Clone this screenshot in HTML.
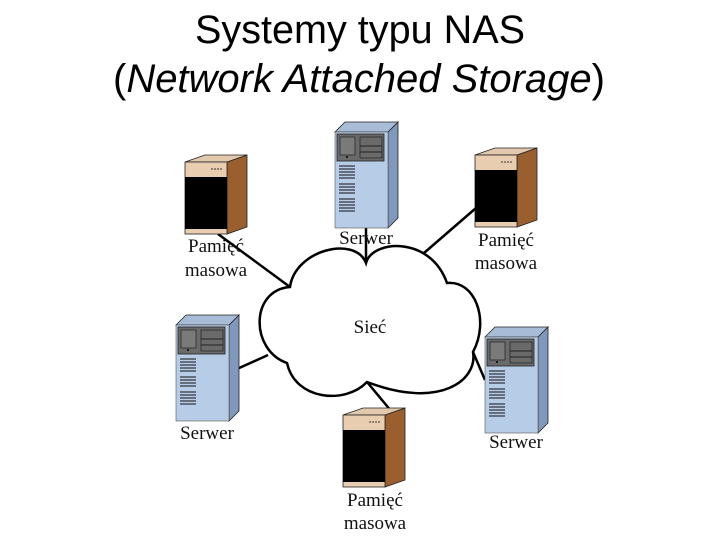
<!DOCTYPE html>
<html><head><meta charset="utf-8"><style>
html,body{margin:0;padding:0;background:#fff;width:720px;height:540px;overflow:hidden}
</style></head><body>
<svg width="720" height="540" viewBox="0 0 720 540" xmlns="http://www.w3.org/2000/svg">
<defs>
<g id="stor">
  <polygon points="42,0 62,-7 62,65 42,72" fill="#9a5f2e" stroke="#222" stroke-width="0.8"/>
  <polygon points="0,0 20,-7 62,-7 42,0" fill="#e2c8ac" stroke="#222" stroke-width="0.8"/>
  <rect x="0" y="0" width="42" height="72" fill="#e8cdb0" stroke="#222" stroke-width="0.8"/>
  <rect x="0" y="15" width="42" height="52" fill="#000"/>
  <line x1="26" y1="7" x2="38" y2="7" stroke="#333" stroke-width="1" stroke-dasharray="2,1"/>
</g>
<g id="serv">
  <polygon points="53,0 63,-10 63,86 53,96" fill="#7f98bc" stroke="#222" stroke-width="0.8"/>
  <polygon points="0,0 10,-10 63,-10 53,0" fill="#a8bcd8" stroke="#222" stroke-width="0.8"/>
  <rect x="0" y="0" width="53" height="96" fill="#b7cce6" stroke="#555" stroke-width="0.6"/>
  <rect x="2" y="2" width="47" height="27" fill="#6a6a6a" stroke="#222" stroke-width="0.8"/>
  <rect x="5" y="5" width="15" height="18" fill="#7a7a7a" stroke="#222" stroke-width="0.7"/>
  <rect x="25" y="5" width="22" height="21" fill="#6a6a6a" stroke="#222" stroke-width="0.7"/>
  <line x1="25" y1="14" x2="47" y2="14" stroke="#222"/>
  <line x1="25" y1="20" x2="47" y2="20" stroke="#222"/>
  <circle cx="12" cy="25" r="1" fill="#000"/>
  <g stroke="#111" stroke-width="1">
    <line x1="4" y1="34" x2="20" y2="34"/><line x1="4" y1="37" x2="20" y2="37"/><line x1="4" y1="40" x2="20" y2="40"/><line x1="4" y1="43" x2="20" y2="43"/><line x1="4" y1="46" x2="20" y2="46"/>
    <line x1="4" y1="52" x2="20" y2="52"/><line x1="4" y1="55" x2="20" y2="55"/><line x1="4" y1="58" x2="20" y2="58"/><line x1="4" y1="61" x2="20" y2="61"/>
    <line x1="4" y1="67" x2="20" y2="67"/><line x1="4" y1="70" x2="20" y2="70"/><line x1="4" y1="73" x2="20" y2="73"/><line x1="4" y1="76" x2="20" y2="76"/><line x1="4" y1="79" x2="20" y2="79"/>
  </g>
</g>
</defs>

<text x="360" y="43" font-family="Liberation Sans, sans-serif" font-size="40" text-anchor="middle" textLength="330" lengthAdjust="spacingAndGlyphs">Systemy typu NAS</text>
<text x="359" y="92" font-family="Liberation Sans, sans-serif" font-size="40" text-anchor="middle" textLength="492" lengthAdjust="spacingAndGlyphs">(<tspan font-style="italic">Network Attached Storage</tspan>)</text>

<g stroke="#000" stroke-width="2.5" fill="none">
  <line x1="218" y1="234" x2="290" y2="287"/>
  <line x1="366" y1="226" x2="366" y2="263"/>
  <line x1="476" y1="208" x2="424" y2="253"/>
  <line x1="237" y1="369" x2="268" y2="355"/>
  <line x1="473" y1="352" x2="485" y2="380"/>
  <line x1="367" y1="382" x2="392" y2="412"/>
</g>

<path d="M366,263 C372,240 430,235 447,283 C475,280 490,320 473,352 C478,380 440,410 367,382 C345,405 295,400 287,363 C250,350 250,290 290,287 C295,250 355,235 366,263 Z" fill="#fff" stroke="#000" stroke-width="2.5"/>

<use href="#stor" x="185" y="162"/>
<use href="#serv" x="335" y="132"/>
<use href="#stor" x="475" y="155"/>
<use href="#serv" x="176" y="325"/>
<use href="#serv" x="485" y="337"/>
<use href="#stor" x="343" y="415"/>

<g font-family="Liberation Serif, serif" font-size="19" text-anchor="middle" fill="#111">
  <text x="216" y="252">Pamięć</text>
  <text x="216" y="276">masowa</text>
  <text x="366" y="244">Serwer</text>
  <text x="506" y="246">Pamięć</text>
  <text x="506" y="269">masowa</text>
  <text x="370" y="333">Sieć</text>
  <text x="207" y="439">Serwer</text>
  <text x="516" y="448">Serwer</text>
  <text x="375" y="506">Pamięć</text>
  <text x="375" y="529">masowa</text>
</g>
</svg>
</body></html>
